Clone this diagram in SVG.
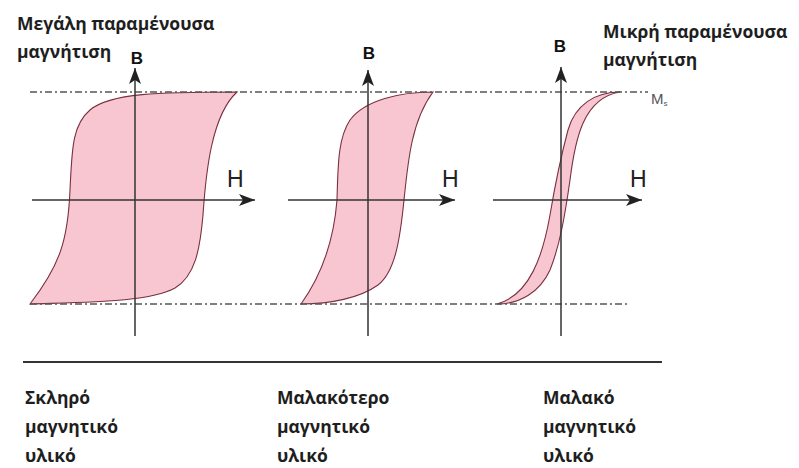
<svg xmlns="http://www.w3.org/2000/svg" width="799" height="468" viewBox="0 0 799 468">
<style>
.lbl{font-family:"Open Sans","Noto Sans","DejaVu Sans",sans-serif;font-weight:bold;font-size:17.5px;fill:#1e1e1e}
.ax{stroke:#333;stroke-width:1.5;fill:none}
.loop{fill:#f8c6d1;stroke:#7a3040;stroke-width:1.1}
.dash{stroke:#555;stroke-width:1.3;stroke-dasharray:7 3 2 3;fill:none}
.B{font-family:"Liberation Sans",Arial,sans-serif;font-weight:bold;font-size:17px;fill:#111;text-anchor:middle}
.H{font-family:"Liberation Sans",Arial,sans-serif;font-size:23px;fill:#222}
</style>
<defs>
<marker id="ah" markerUnits="userSpaceOnUse" markerWidth="20" markerHeight="14" viewBox="-17 -7 18 14" refX="0" refY="0" orient="auto">
<path d="M0,0 L-16,-6 L-12,0 L-16,6 Z" fill="#222"/>
</marker>
</defs>
<rect width="799" height="468" fill="#fff"/>

<g id="loops">
<path id="loop-hard" class="loop" d="M237,92 C160,92 110,93 90,110 C72,125 72,150 70,190 C68,240 60,265 30,304 C90,302 150,302 175,288 C195,276 200,250 203,215 C206,170 212,115 237,92 Z"/>
<path id="loop-softer" class="loop" d="M433,92 C400,92 365,100 350,120 C338,138 338,165 337,200 C334,238 324,272 301,304 C330,304 360,298 378,285 C395,272 400,240 404,200 C408,160 412,120 433,92 Z"/>
<path id="loop-soft" class="loop" d="M620,92 C595,92 575,105 568,130 C560,160 555,185 550,215 C543,255 530,295 497,304 C520,304 540,292 550,270 C560,245 565,215 570,180 C575,140 583,98 620,92 Z"/>
</g>

<g id="saturation-lines">
<line class="dash" x1="30" y1="92" x2="648" y2="92"/>
<line class="dash" x1="30" y1="304" x2="630" y2="304"/>
<text x="651" y="104" font-family="Liberation Sans, Arial, sans-serif" font-size="15" fill="#555">M<tspan font-size="8" dy="2">s</tspan></text>
</g>

<g id="connectors">
<line class="ax" x1="32" y1="200" x2="255" y2="200" marker-end="url(#ah)"/>
<line class="ax" x1="135" y1="336" x2="135" y2="68" marker-end="url(#ah)"/>
<line class="ax" x1="288" y1="200" x2="455" y2="200" marker-end="url(#ah)"/>
<line class="ax" x1="368" y1="336" x2="368" y2="70" marker-end="url(#ah)"/>
<line class="ax" x1="493" y1="200" x2="642" y2="200" marker-end="url(#ah)"/>
<line class="ax" x1="561" y1="336" x2="561" y2="67" stroke="#666" marker-end="url(#ah)"/>
</g>

<g id="axis-labels">
<text class="B" x="137" y="64">B</text>
<text class="B" x="369" y="59">B</text>
<text class="B" x="560" y="52">B</text>
<text class="H" x="227" y="187">H</text>
<text class="H" x="442" y="187">H</text>
<text class="H" x="630" y="187">H</text>
</g>

<g id="note-large">
<text class="lbl" x="17" y="30">Μεγάλη παραμένουσα</text>
<text class="lbl" x="17" y="58">μαγνήτιση</text>
</g>
<g id="note-small">
<text class="lbl" x="603" y="38">Μικρή παραμένουσα</text>
<text class="lbl" x="603" y="66">μαγνήτιση</text>
</g>

<line id="separator" x1="23" y1="362" x2="662" y2="362" stroke="#333" stroke-width="2"/>

<g id="hard-material">
<text class="lbl" x="25" y="404">Σκληρό</text>
<text class="lbl" x="25" y="433">μαγνητικό</text>
<text class="lbl" x="25" y="462">υλικό</text>
</g>
<g id="softer-material">
<text class="lbl" x="277" y="404">Μαλακότερο</text>
<text class="lbl" x="277" y="433">μαγνητικό</text>
<text class="lbl" x="277" y="462">υλικό</text>
</g>
<g id="soft-material">
<text class="lbl" x="543" y="404">Μαλακό</text>
<text class="lbl" x="543" y="433">μαγνητικό</text>
<text class="lbl" x="543" y="462">υλικό</text>
</g>
</svg>
